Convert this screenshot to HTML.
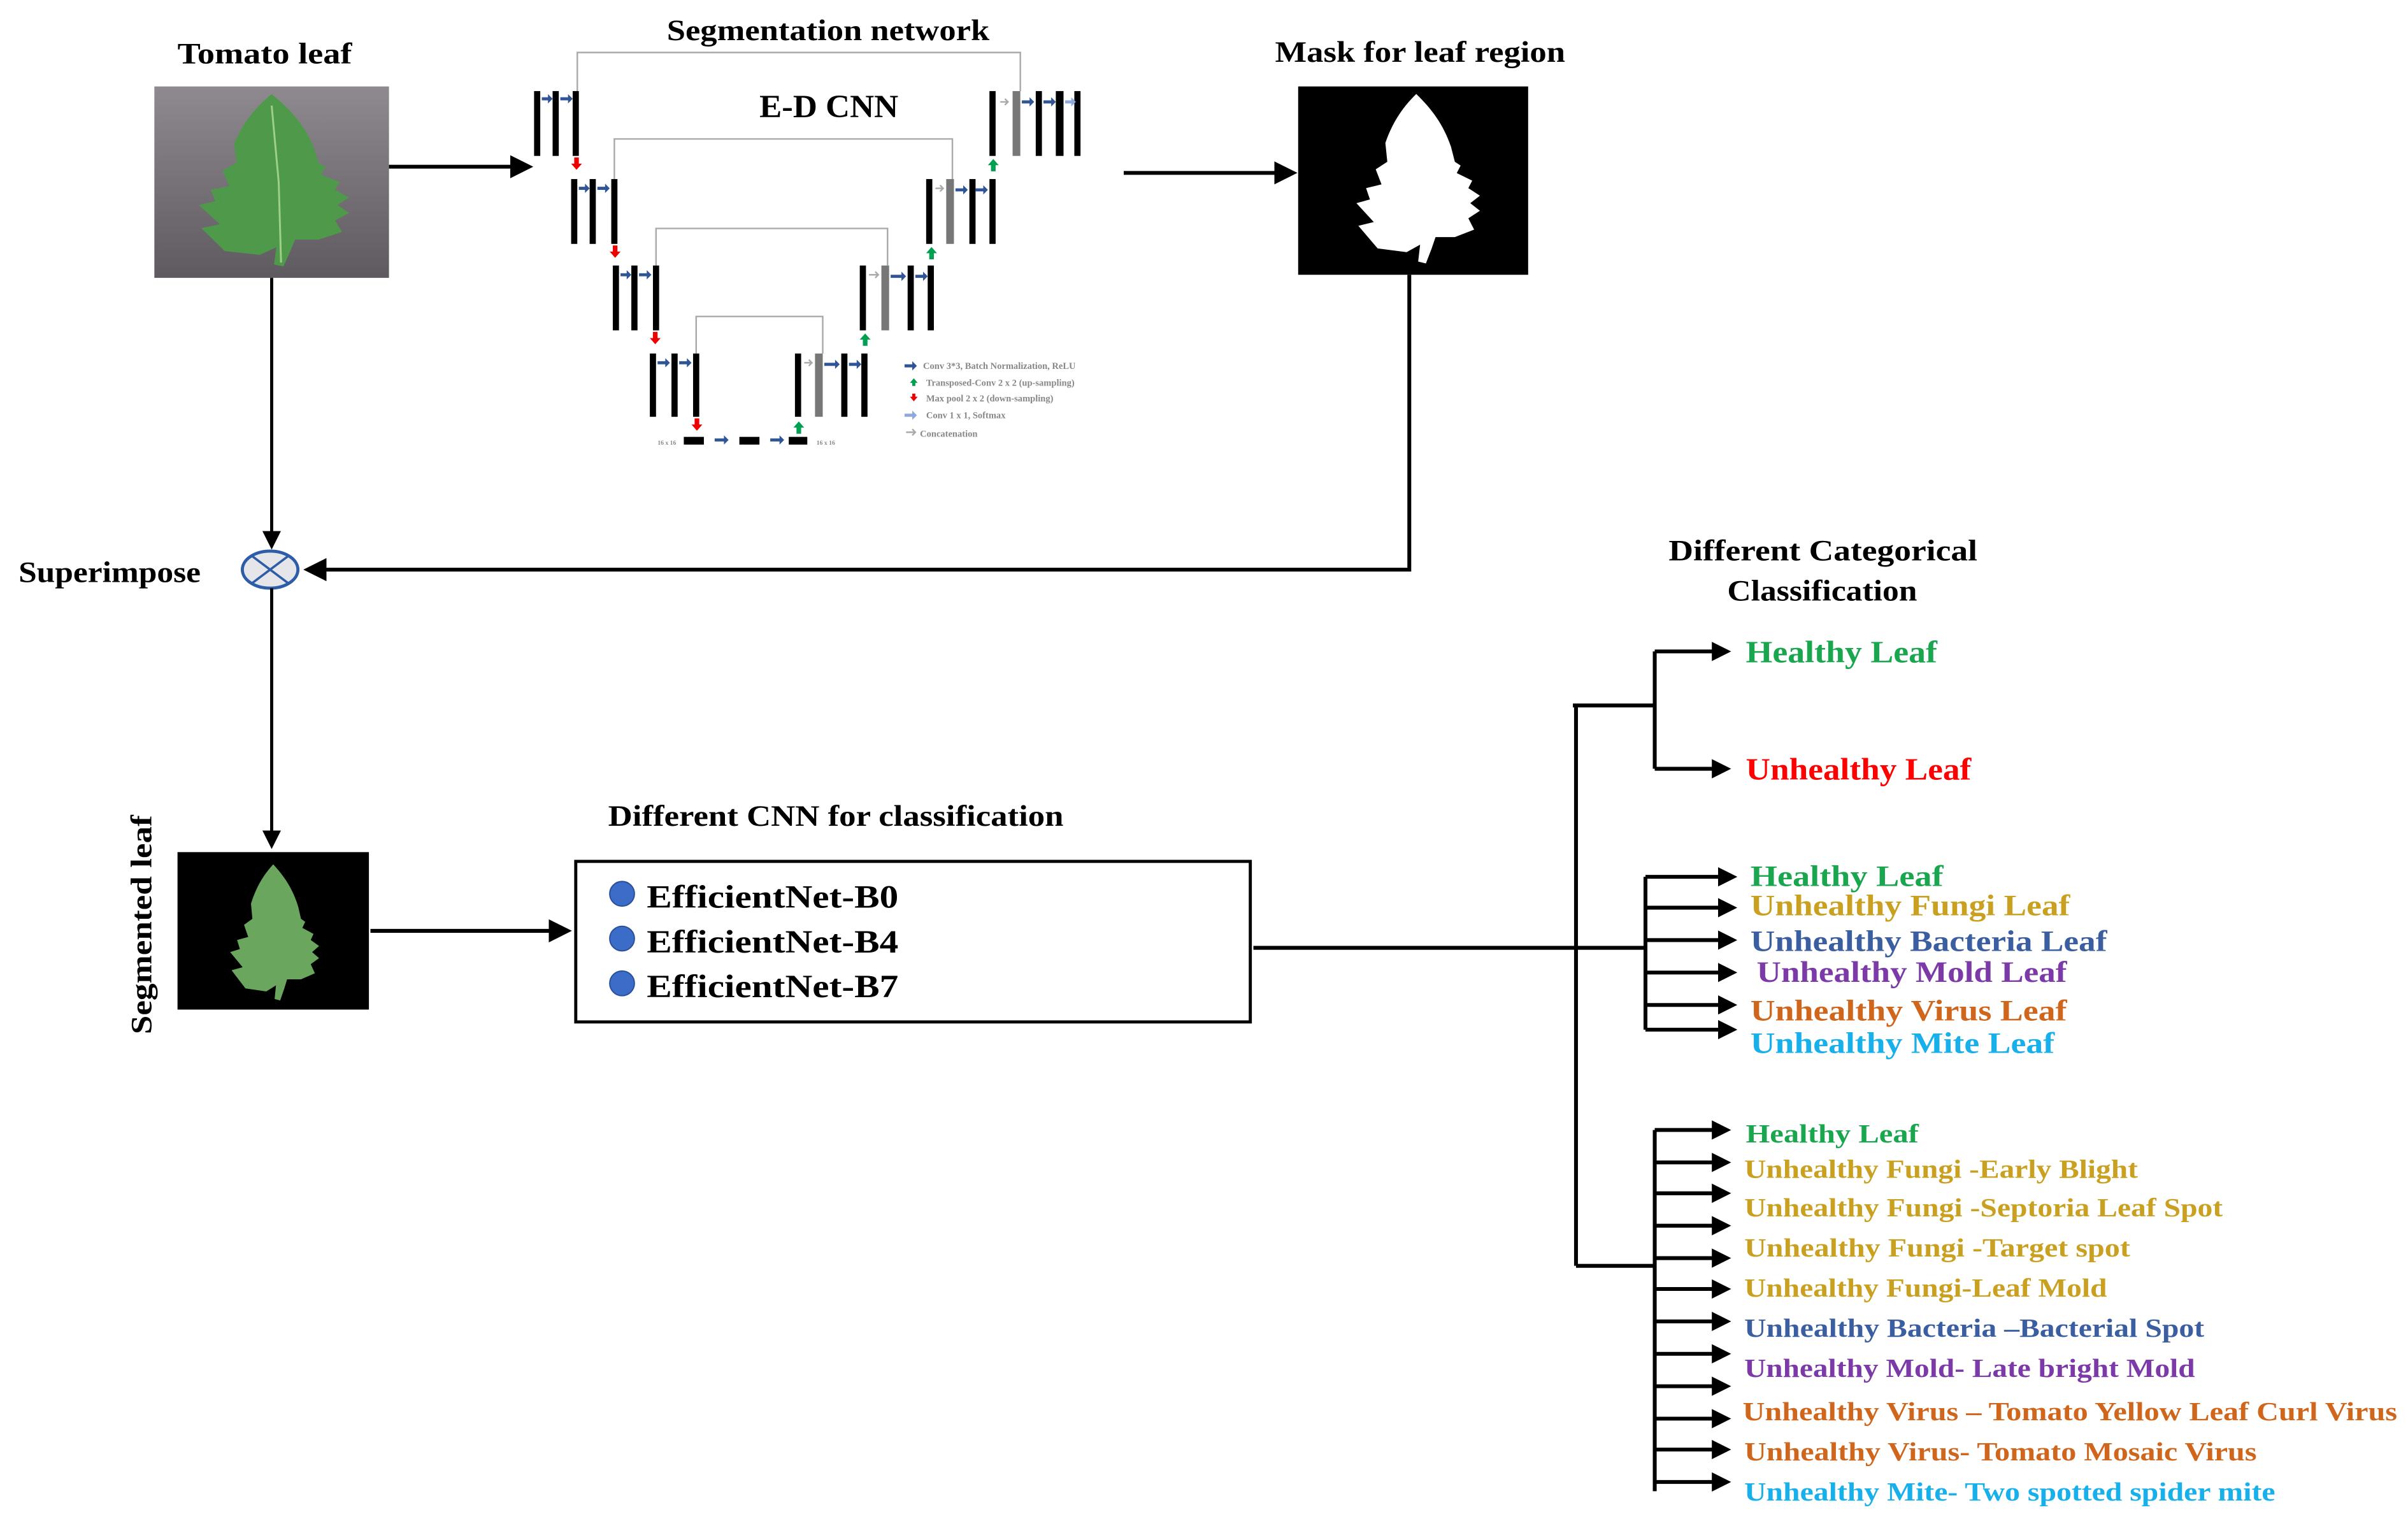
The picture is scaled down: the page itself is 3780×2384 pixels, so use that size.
<!DOCTYPE html>
<html><head><meta charset="utf-8"><style>
html,body{margin:0;padding:0;background:#fff;}
svg{display:block;}
text{font-family:"Liberation Serif",serif;font-weight:bold;}
</style></head><body>
<svg width="3780" height="2384" viewBox="0 0 1560 984" preserveAspectRatio="none" xmlns="http://www.w3.org/2000/svg">
<defs>
<marker id="ah" markerWidth="6" markerHeight="6" refX="5" refY="3" orient="auto" markerUnits="strokeWidth"><path d="M0,0 L6,3 L0,6 Z" fill="#000"/></marker>
<marker id="ah2" markerWidth="5" markerHeight="5" refX="4" refY="2.5" orient="auto" markerUnits="strokeWidth"><path d="M0,0 L5,2.5 L0,5 Z" fill="#000"/></marker>
<path id="leaf" d="M50,4 C58,12 64,20 68,32 L70,40 L73,42 L71,46 L79,50 L77,54 L83,58 L78,62 L83,66 L77,70 L80,76 L70,80 L60,80 L58,86 L55,94 L51,93 L52,84 L45,88 L30,86 L20,74 L28,72 L19,62 L26,60 L24,54 L32,52 L29,44 L35,40 L34,30 C38,18 44,10 50,4 Z"/>
<linearGradient id="bg" x1="0" y1="0" x2="0" y2="1"><stop offset="0" stop-color="#8e8a90"/><stop offset="1" stop-color="#5e5a60"/></linearGradient>
</defs>
<rect width="1560" height="984" fill="#fff"/>

<!-- Tomato leaf -->
<text x="115" y="41" font-size="19" textLength="113" lengthAdjust="spacingAndGlyphs">Tomato leaf</text>
<rect x="100" y="56" width="152" height="124" fill="url(#bg)"/>
<g transform="translate(100,56) scale(1.52,1.24)"><use href="#leaf" fill="#4e9a4a"/><path d="M50,10 L53,50 L54,92" stroke="#9fd08a" stroke-width="0.8" fill="none"/></g>
<line x1="252" y1="108" x2="343" y2="108" stroke="#000" stroke-width="2.5" marker-end="url(#ah)"/>

<!-- Segmentation network -->
<text x="432" y="26" font-size="19" textLength="209" lengthAdjust="spacingAndGlyphs">Segmentation network</text>
<text x="492" y="76" font-size="21" textLength="90" lengthAdjust="spacingAndGlyphs">E-D CNN</text>
<g stroke="#aaa" stroke-width="1" fill="none">
<path d="M374,59 V34 H661 V59"/>
<path d="M398,116 V90 H617 V116"/>
<path d="M425,172 V148 H575 V172"/>
<path d="M451,229 V205 H533 V229"/>
</g>
<g fill="#000">
<rect x="346" y="59" width="4" height="42"/><rect x="358" y="59" width="4" height="42"/><rect x="371" y="59" width="4" height="42"/>
<rect x="641" y="59" width="4" height="42"/><rect x="656" y="59" width="5" height="42" fill="#777"/><rect x="671" y="59" width="4" height="42"/><rect x="684" y="59" width="5" height="42"/><rect x="696" y="59" width="4" height="42"/>
<rect x="370" y="116" width="4" height="42"/><rect x="382" y="116" width="4" height="42"/><rect x="396" y="116" width="4" height="42"/>
<rect x="600" y="116" width="4" height="42"/><rect x="613" y="116" width="5" height="42" fill="#777"/><rect x="628" y="116" width="4" height="42"/><rect x="641" y="116" width="4" height="42"/>
<rect x="397" y="172" width="4" height="42"/><rect x="409" y="172" width="4" height="42"/><rect x="423" y="172" width="4" height="42"/>
<rect x="557" y="172" width="4" height="42"/><rect x="571" y="172" width="5" height="42" fill="#777"/><rect x="588" y="172" width="4" height="42"/><rect x="601" y="172" width="4" height="42"/>
<rect x="421" y="229" width="4" height="41"/><rect x="435" y="229" width="4" height="41"/><rect x="449" y="229" width="4" height="41"/>
<rect x="515" y="229" width="4" height="41"/><rect x="528" y="229" width="5" height="41" fill="#777"/><rect x="545" y="229" width="4" height="41"/><rect x="558" y="229" width="4" height="41"/>
<rect x="443" y="283" width="13" height="5"/><rect x="479" y="283" width="13" height="5"/><rect x="511" y="283" width="12" height="5"/>
</g>
<g fill="#2f5597">
<path d="M351,63 h4 v-2 l3,3 l-3,3 v-2 h-4z"/><path d="M363,63 h5 v-2 l3,3 l-3,3 v-2 h-5z"/>
<path d="M375,121 h4 v-2 l3,3 l-3,3 v-2 h-4z"/><path d="M387,121 h5 v-2 l3,3 l-3,3 v-2 h-5z"/>
<path d="M402,177 h4 v-2 l3,3 l-3,3 v-2 h-4z"/><path d="M414,177 h5 v-2 l3,3 l-3,3 v-2 h-5z"/>
<path d="M426,234 h5 v-2 l3,3 l-3,3 v-2 h-5z"/><path d="M440,234 h5 v-2 l3,3 l-3,3 v-2 h-5z"/>
<path d="M662,65 h5 v-2 l3,3 l-3,3 v-2 h-5z"/><path d="M676,65 h5 v-2 l3,3 l-3,3 v-2 h-5z"/>
<path d="M619,122 h5 v-2 l3,3 l-3,3 v-2 h-5z"/><path d="M632,122 h5 v-2 l3,3 l-3,3 v-2 h-5z"/>
<path d="M577,178 h7 v-2 l3,3 l-3,3 v-2 h-7z"/><path d="M593,178 h5 v-2 l3,3 l-3,3 v-2 h-5z"/>
<path d="M534,235 h7 v-2 l3,3 l-3,3 v-2 h-7z"/><path d="M550,235 h5 v-2 l3,3 l-3,3 v-2 h-5z"/>
<path d="M463,284 h6 v-2 l3,3 l-3,3 v-2 h-6z"/><path d="M499,284 h6 v-2 l3,3 l-3,3 v-2 h-6z"/>
<path d="M586,236 h5 v-2 l3,3 l-3,3 v-2 h-5z"/>
</g>
<path d="M690,65 h4 v-2 l3,3 l-3,3 v-2 h-4z" fill="#8ea9db"/>
<path d="M586,268 h5 v-2 l3,3 l-3,3 v-2 h-5z" fill="#8ea9db"/>
<g fill="#e00"><path d="M372,102 h3 v4 h2 l-3.5,4 l-3.5,-4 h2z"/><path d="M397,159 h3 v4 h2 l-3.5,4 l-3.5,-4 h2z"/><path d="M423,215 h3 v4 h2 l-3.5,4 l-3.5,-4 h2z"/><path d="M450,271 h3 v4 h2 l-3.5,4 l-3.5,-4 h2z"/><path d="M591,255 h2 v2 h1.5 l-2.5,3 l-2.5,-3 h1.5z"/></g>
<g fill="#00a050"><path d="M642,111 h3 v-4 h2 l-3.5,-4 l-3.5,4 h2z"/><path d="M602,168 h3 v-4 h2 l-3.5,-4 l-3.5,4 h2z"/><path d="M559,224 h3 v-4 h2 l-3.5,-4 l-3.5,4 h2z"/><path d="M516,281 h3 v-4 h2 l-3.5,-4 l-3.5,4 h2z"/><path d="M591,250 h2 v-2 h1.5 l-2.5,-3 l-2.5,3 h1.5z"/></g>
<g stroke="#aaa" stroke-width="1" fill="none"><path d="M648,66 h5 m-2,-2 l2,2 l-2,2"/><path d="M606,122 h5 m-2,-2 l2,2 l-2,2"/><path d="M563,178 h6 m-2,-2 l2,2 l-2,2"/><path d="M521,235 h5 m-2,-2 l2,2 l-2,2"/><path d="M587,280 h6 m-2,-2 l2,2 l-2,2"/></g>
<g font-size="6" fill="#888" style="font-weight:normal">
<text x="598" y="239">Conv 3*3, Batch Normalization, ReLU</text>
<text x="600" y="250">Transposed-Conv 2 x 2 (up-sampling)</text>
<text x="600" y="260">Max pool 2 x 2 (down-sampling)</text>
<text x="600" y="271">Conv 1 x 1, Softmax</text>
<text x="596" y="283">Concatenation</text>
<text x="426" y="288" font-size="4">16 x 16</text><text x="529" y="288" font-size="4">16 x 16</text>
</g>
<line x1="728" y1="112" x2="838" y2="112" stroke="#000" stroke-width="2.5" marker-end="url(#ah)"/>

<!-- Mask -->
<text x="826" y="40" font-size="19" textLength="188" lengthAdjust="spacingAndGlyphs">Mask for leaf region</text>
<rect x="841" y="56" width="149" height="122" fill="#000"/>
<g transform="translate(855,56) scale(1.25,1.22)"><use href="#leaf" fill="#fff"/></g>
<path d="M913,178 V369 H199" stroke="#000" stroke-width="2.5" fill="none" marker-end="url(#ah)"/>

<!-- Superimpose -->
<text x="12" y="377" font-size="19" textLength="118" lengthAdjust="spacingAndGlyphs">Superimpose</text>
<line x1="176" y1="180" x2="176" y2="354" stroke="#000" stroke-width="2" marker-end="url(#ah)"/>
<ellipse cx="175" cy="369" rx="18" ry="12" fill="#e6e6ea" stroke="#2e5da8" stroke-width="2"/>
<path d="M163,360 L187,378 M187,360 L163,378" stroke="#2e5da8" stroke-width="1.5"/>
<line x1="176" y1="381" x2="176" y2="548" stroke="#000" stroke-width="2" marker-end="url(#ah)"/>

<!-- Segmented leaf -->
<rect x="115" y="552" width="124" height="102" fill="#000"/>
<g transform="translate(132,556) scale(0.9,0.98)"><use href="#leaf" fill="#6aa65e"/></g>
<text transform="translate(98,670) rotate(-90)" font-size="19" textLength="142" lengthAdjust="spacingAndGlyphs">Segmented leaf</text>
<line x1="240" y1="603" x2="368" y2="603" stroke="#000" stroke-width="2.5" marker-end="url(#ah)"/>

<!-- CNN box -->
<text x="394" y="535" font-size="19" textLength="295" lengthAdjust="spacingAndGlyphs">Different CNN for classification</text>
<rect x="373" y="558" width="437" height="104" fill="#fff" stroke="#000" stroke-width="2"/>
<g fill="#3a6cc8" stroke="#2a4f9a" stroke-width="0.8"><ellipse cx="403" cy="579" rx="8" ry="8"/><ellipse cx="403" cy="608" rx="8" ry="8"/><ellipse cx="403" cy="637" rx="8" ry="8"/></g>
<g font-size="21"><text x="419" y="588" textLength="163" lengthAdjust="spacingAndGlyphs">EfficientNet-B0</text><text x="419" y="617" textLength="163" lengthAdjust="spacingAndGlyphs">EfficientNet-B4</text><text x="419" y="646" textLength="163" lengthAdjust="spacingAndGlyphs">EfficientNet-B7</text></g>

<!-- Tree -->
<g stroke="#000" stroke-width="2.5" fill="none">
<line x1="812" y1="614" x2="1066" y2="614"/>
<line x1="1021" y1="456" x2="1021" y2="820"/>
<line x1="1019" y1="457" x2="1072" y2="457"/>
<line x1="1072" y1="422" x2="1072" y2="498"/>
<line x1="1066" y1="568" x2="1066" y2="667"/>
<line x1="1021" y1="820" x2="1072" y2="820"/>
<line x1="1072" y1="732" x2="1072" y2="966"/>
</g>
<g stroke="#000" stroke-width="2.5" marker-end="url(#ah2)">
<line x1="1072" y1="422" x2="1119" y2="422"/><line x1="1072" y1="498" x2="1119" y2="498"/>
<line x1="1066" y1="568" x2="1123" y2="568"/><line x1="1066" y1="588" x2="1123" y2="588"/><line x1="1066" y1="609" x2="1123" y2="609"/><line x1="1066" y1="630" x2="1123" y2="630"/><line x1="1066" y1="651" x2="1123" y2="651"/><line x1="1066" y1="667" x2="1123" y2="667"/>
<line x1="1072" y1="732" x2="1119" y2="732"/><line x1="1072" y1="753" x2="1119" y2="753"/><line x1="1072" y1="773" x2="1119" y2="773"/><line x1="1072" y1="794" x2="1119" y2="794"/><line x1="1072" y1="815" x2="1119" y2="815"/><line x1="1072" y1="835" x2="1119" y2="835"/><line x1="1072" y1="856" x2="1119" y2="856"/><line x1="1072" y1="877" x2="1119" y2="877"/><line x1="1072" y1="898" x2="1119" y2="898"/><line x1="1072" y1="919" x2="1119" y2="919"/><line x1="1072" y1="939" x2="1119" y2="939"/><line x1="1072" y1="960" x2="1119" y2="960"/>
</g>

<text x="1081" y="363" font-size="19" textLength="200" lengthAdjust="spacingAndGlyphs">Different Categorical</text>
<text x="1119" y="389" font-size="19" textLength="123" lengthAdjust="spacingAndGlyphs">Classification</text>

<g font-size="20">
<text x="1131" y="429" fill="#1aa64e" textLength="124" lengthAdjust="spacingAndGlyphs">Healthy Leaf</text>
<text x="1131" y="505" fill="#ff0000" textLength="146" lengthAdjust="spacingAndGlyphs">Unhealthy Leaf</text>
</g>
<g font-size="19">
<text x="1134" y="574" fill="#1aa64e" textLength="125" lengthAdjust="spacingAndGlyphs">Healthy Leaf</text>
<text x="1134" y="593" fill="#c9a020" textLength="207" lengthAdjust="spacingAndGlyphs">Unhealthy  Fungi Leaf</text>
<text x="1134" y="616" fill="#3a5ea0" textLength="231" lengthAdjust="spacingAndGlyphs">Unhealthy  Bacteria Leaf</text>
<text x="1138" y="636" fill="#7b3aa8" textLength="201" lengthAdjust="spacingAndGlyphs">Unhealthy  Mold Leaf</text>
<text x="1134" y="661" fill="#d0651c" textLength="205" lengthAdjust="spacingAndGlyphs">Unhealthy  Virus  Leaf</text>
<text x="1134" y="682" fill="#17b0ea" textLength="197" lengthAdjust="spacingAndGlyphs">Unhealthy  Mite Leaf</text>
</g>
<g font-size="17">
<text x="1131" y="740" fill="#1aa64e" textLength="112" lengthAdjust="spacingAndGlyphs">Healthy Leaf</text>
<text x="1130" y="763" fill="#c9a020" textLength="255" lengthAdjust="spacingAndGlyphs">Unhealthy  Fungi  -Early Blight</text>
<text x="1130" y="788" fill="#c9a020" textLength="310" lengthAdjust="spacingAndGlyphs">Unhealthy  Fungi  -Septoria Leaf Spot</text>
<text x="1130" y="814" fill="#c9a020" textLength="250" lengthAdjust="spacingAndGlyphs">Unhealthy  Fungi  -Target spot</text>
<text x="1130" y="840" fill="#c9a020" textLength="235" lengthAdjust="spacingAndGlyphs">Unhealthy  Fungi-Leaf Mold</text>
<text x="1130" y="866" fill="#3a5ea0" textLength="298" lengthAdjust="spacingAndGlyphs">Unhealthy  Bacteria –Bacterial Spot</text>
<text x="1130" y="892" fill="#7b3aa8" textLength="292" lengthAdjust="spacingAndGlyphs">Unhealthy  Mold- Late bright Mold</text>
<text x="1129" y="920" fill="#d0651c" textLength="424" lengthAdjust="spacingAndGlyphs">Unhealthy  Virus  –  Tomato Yellow Leaf Curl Virus</text>
<text x="1130" y="946" fill="#d0651c" textLength="332" lengthAdjust="spacingAndGlyphs">Unhealthy  Virus-  Tomato Mosaic Virus</text>
<text x="1130" y="972" fill="#17b0ea" textLength="344" lengthAdjust="spacingAndGlyphs">Unhealthy  Mite-  Two spotted spider mite</text>
</g>
</svg>
</body></html>
